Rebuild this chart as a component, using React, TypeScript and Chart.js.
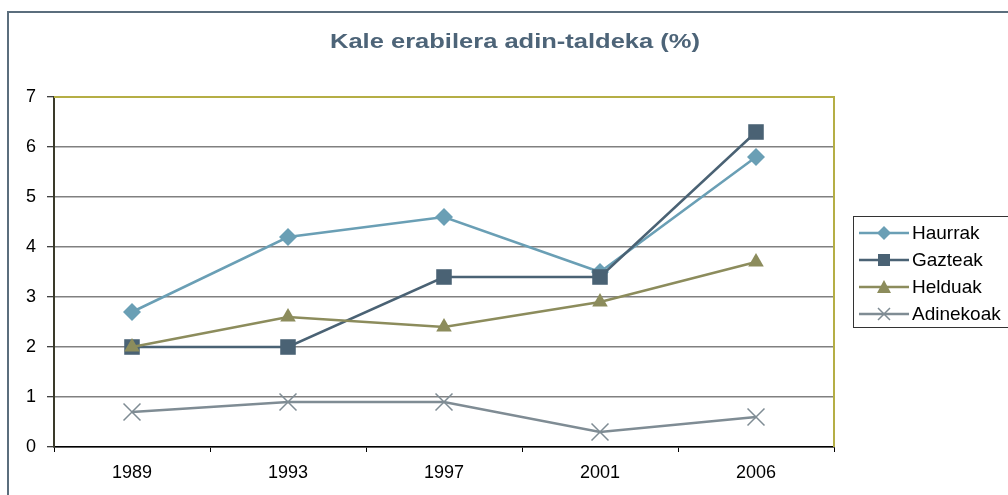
import React, { useEffect, useRef } from "react";
import { Chart, registerables } from "chart.js";

Chart.register(...registerables);

const title = "Kale erabilera adin-taldeka (%)";
const years = ["1989", "1993", "1997", "2001", "2006"];
const haurrak = [2.7, 4.2, 4.6, 3.5, 5.8];
const gazteak = [2.0, 2.0, 3.4, 3.4, 6.3];
const helduak = [2.0, 2.6, 2.4, 2.9, 3.7];
const adinekoak = [0.7, 0.9, 0.9, 0.3, 0.6];
const yTicks = [0, 1, 2, 3, 4, 5, 6, 7];

const FONT = "'Liberation Sans', Arial, sans-serif";

function drawLegendMarker(ctx: any, style: string, color: string, x: number, y: number) {
  ctx.save();
  ctx.fillStyle = color;
  ctx.strokeStyle = color;
  ctx.lineWidth = 1.5;
  ctx.beginPath();
  if (style === "rectRot") {
    const r = 7;
    ctx.moveTo(x, y - r);
    ctx.lineTo(x + r, y);
    ctx.lineTo(x, y + r);
    ctx.lineTo(x - r, y);
    ctx.closePath();
    ctx.fill();
  } else if (style === "rect") {
    const s = 6;
    ctx.rect(x - s, y - s, 2 * s, 2 * s);
    ctx.fill();
  } else if (style === "triangle") {
    ctx.moveTo(x, y - 7);
    ctx.lineTo(x + 7, y + 6);
    ctx.lineTo(x - 7, y + 6);
    ctx.closePath();
    ctx.fill();
  } else {
    const d = 6;
    ctx.moveTo(x - d, y - d);
    ctx.lineTo(x + d, y + d);
    ctx.moveTo(x + d, y - d);
    ctx.lineTo(x - d, y + d);
    ctx.stroke();
  }
  ctx.restore();
}

const decorPlugin = {
  id: "decor",
  beforeDraw(chart: any) {
    const ctx = chart.ctx;
    ctx.save();
    ctx.fillStyle = "#ffffff";
    ctx.fillRect(0, 0, chart.width, chart.height);
    // outer border
    ctx.strokeStyle = "#5b6e7d";
    ctx.lineWidth = 2;
    ctx.strokeRect(8, 12, chart.width + 50, chart.height + 50);
    // title (horizontally stretched to match)
    ctx.fillStyle = "#4d6478";
    ctx.font = `bold 21px ${FONT}`;
    ctx.textAlign = "center";
    ctx.textBaseline = "middle";
    const w = ctx.measureText(title).width;
    const sx = 370 / w;
    ctx.translate(515, 42);
    ctx.scale(sx, 1);
    ctx.fillText(title, 0, 0);
    ctx.restore();
  },
  beforeDatasetsDraw(chart: any) {
    const { ctx, chartArea } = chart;
    ctx.save();
    ctx.strokeStyle = "#b5ae45";
    ctx.lineWidth = 2;
    ctx.beginPath();
    ctx.moveTo(chartArea.left, chartArea.top);
    ctx.lineTo(chartArea.right, chartArea.top);
    ctx.lineTo(chartArea.right, chartArea.bottom);
    ctx.stroke();
    ctx.restore();
  },
  afterDraw(chart: any) {
    const ctx = chart.ctx;
    ctx.save();
    ctx.strokeStyle = "#333333";
    ctx.lineWidth = 1;
    ctx.strokeRect(853.5, 216.5, 200, 111);
    ctx.font = `19px ${FONT}`;
    ctx.textAlign = "left";
    ctx.textBaseline = "middle";
    chart.data.datasets.forEach((ds: any, i: number) => {
      const y = 233 + i * 27;
      ctx.strokeStyle = ds.borderColor;
      ctx.lineWidth = 2.5;
      ctx.beginPath();
      ctx.moveTo(859, y);
      ctx.lineTo(909, y);
      ctx.stroke();
      drawLegendMarker(ctx, ds.pointStyle, ds.borderColor, 884, y);
      ctx.fillStyle = "#000000";
      ctx.fillText(ds.label, 912, y + 1);
    });
    ctx.restore();
  },
};

export default function App() {
  const ref = useRef<HTMLCanvasElement>(null);
  useEffect(() => {
    document.body.style.margin = "0";
    document.body.style.overflow = "hidden";
    const mk = (label: string, data: number[], color: string, style: string, radius: number, order: number) => ({
      label,
      data,
      borderColor: color,
      backgroundColor: color,
      pointBackgroundColor: color,
      pointBorderColor: color,
      pointBorderWidth: style === "crossRot" ? 1.5 : 0,
      pointStyle: style,
      pointRadius: radius,
      borderWidth: 2.5,
      tension: 0,
      order,
    });
    const chart = new Chart(ref.current!, {
      type: "line",
      data: {
        labels: years,
        datasets: [
          mk("Haurrak", haurrak, "#6a9fb5", "rectRot", 9, 4),
          mk("Gazteak", gazteak, "#4a6274", "rect", 11, 3),
          mk("Helduak", helduak, "#8c8c5c", "triangle", 9, 2),
          mk("Adinekoak", adinekoak, "#7f8c94", "crossRot", 12, 1),
        ] as any,
      },
      options: {
        animation: false,
        responsive: false,
        layout: { padding: { left: 0, top: 97, right: 174, bottom: 0 } },
        plugins: { legend: { display: false }, title: { display: false }, tooltip: { enabled: false } },
        scales: {
          x: {
            offset: true,
            grid: { offset: true, drawOnChartArea: false, drawTicks: true, tickLength: 5, color: "#000000", lineWidth: 1 },
            border: { color: "#000000", width: 1.5 },
            ticks: { color: "#000000", font: { family: FONT, size: 18 }, padding: 10 },
            afterFit: (s: any) => { s.height = 48; },
          },
          y: {
            min: 0,
            max: 7,
            afterBuildTicks: (s: any) => { s.ticks = yTicks.map((v) => ({ value: v })); },
            grid: {
              color: "#808080",
              lineWidth: 1.5,
              tickLength: 7,
              tickColor: "#000000",
              tickWidth: 1,
            },
            border: { color: "#3a3a2a", width: 2 },
            ticks: { color: "#000000", font: { family: FONT, size: 18 }, padding: 11 },
            afterFit: (s: any) => { s.width = 54; },
          },
        },
      } as any,
      plugins: [decorPlugin],
    });
    return () => chart.destroy();
  }, []);
  return <canvas ref={ref} width={1008} height={495} style={{ display: "block" }} />;
}
